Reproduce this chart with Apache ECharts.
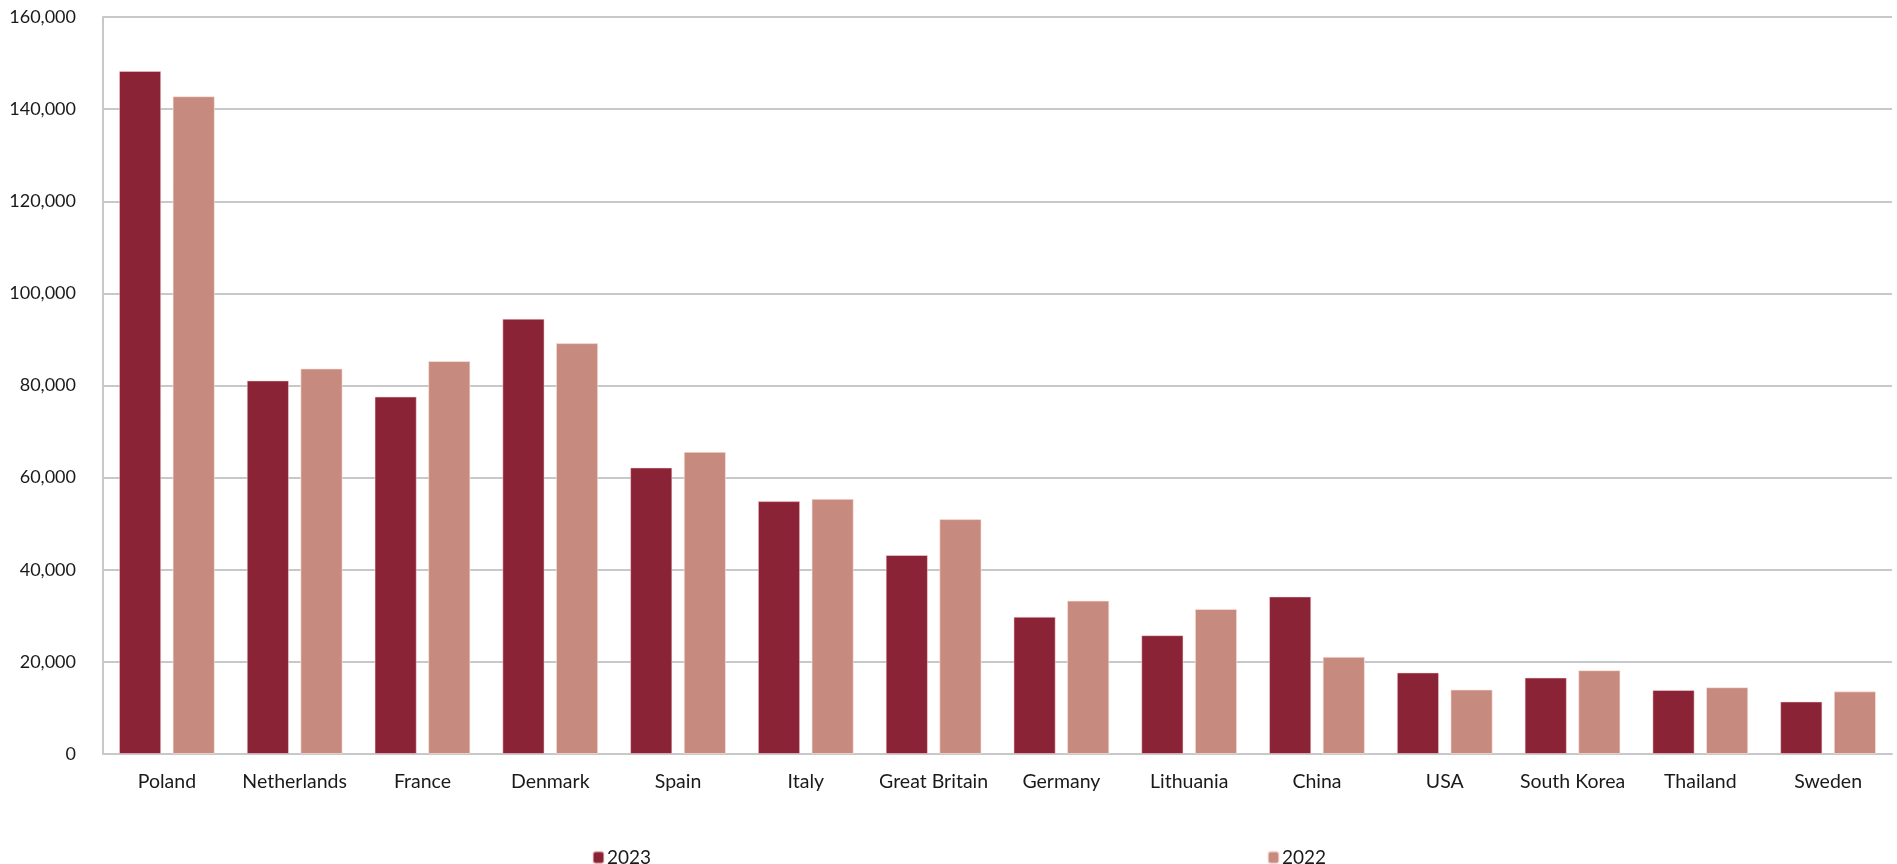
<!DOCTYPE html>
<html>
<head>
<meta charset="utf-8">
<script src="https://cdn.jsdelivr.net/npm/echarts@6/dist/echarts.min.js"></script>
<style>
html,body{margin:0;padding:0;background:#fff;}
#chart{width:1897px;height:864px;}
</style>
</head>
<body>
<div id="chart"></div>
<script>
const categories = ['Poland','Netherlands','France','Denmark','Spain','Italy','Great Britain','Germany','Lithuania','China','USA','South Korea','Thailand','Sweden'];
const values2023 = [148300,81100,77600,94500,62200,54900,43200,29800,25800,34200,17700,16600,13900,11400];
const values2022 = [142800,83700,85300,89200,65600,55400,51000,33300,31500,21100,14000,18200,14500,13600];
const yTicks = { min: 0, max: 160000, interval: 20000 };

const FONT = 'Lato, "Noto Sans", sans-serif';
const chart = echarts.init(document.getElementById('chart'));
chart.setOption({
  backgroundColor: '#ffffff',
  animation: false,
  grid: { left: 103, right: 5, top: 17, bottom: 110, containLabel: false },
  legend: [
    { data: ['2023'], left: 587, top: 843, itemWidth: 11, itemHeight: 12, itemGap: 4,
      textStyle: { fontFamily: FONT, fontSize: 19, color: '#1a1a1a', padding: [0,0,0,-2] } },
    { data: ['2022'], left: 1262, top: 843, itemWidth: 11, itemHeight: 12, itemGap: 4,
      textStyle: { fontFamily: FONT, fontSize: 19, color: '#1a1a1a', padding: [0,0,0,-2] } }
  ],
  xAxis: {
    type: 'category',
    data: categories,
    axisLine: { show: true, lineStyle: { color: '#c6c8ca', width: 2 } },
    axisTick: { show: false },
    axisLabel: { fontFamily: FONT, fontSize: 19.5, color: '#1a1a1a', margin: 18, interval: 0 }
  },
  yAxis: {
    type: 'value',
    min: yTicks.min, max: yTicks.max, interval: yTicks.interval,
    axisLine: { show: true, lineStyle: { color: '#c6c8ca', width: 2 } },
    axisTick: { show: false },
    splitLine: { show: true, lineStyle: { color: '#c6c8ca', width: 2 } },
    axisLabel: {
      fontFamily: FONT, fontSize: 18, color: '#1a1a1a', margin: 27,
      formatter: v => v.toLocaleString('en-US')
    }
  },
  series: [
    { name: '2023', type: 'bar', data: values2023, barGap: '27%', barCategoryGap: '25%',
      itemStyle: { color: '#8b2336', borderColor: 'rgba(255,220,220,0.5)', borderWidth: 1 } },
    { name: '2022', type: 'bar', data: values2022,
      itemStyle: { color: '#c78a7e', borderColor: 'rgba(255,230,225,0.6)', borderWidth: 1 } }
  ]
});
</script>
</body>
</html>
